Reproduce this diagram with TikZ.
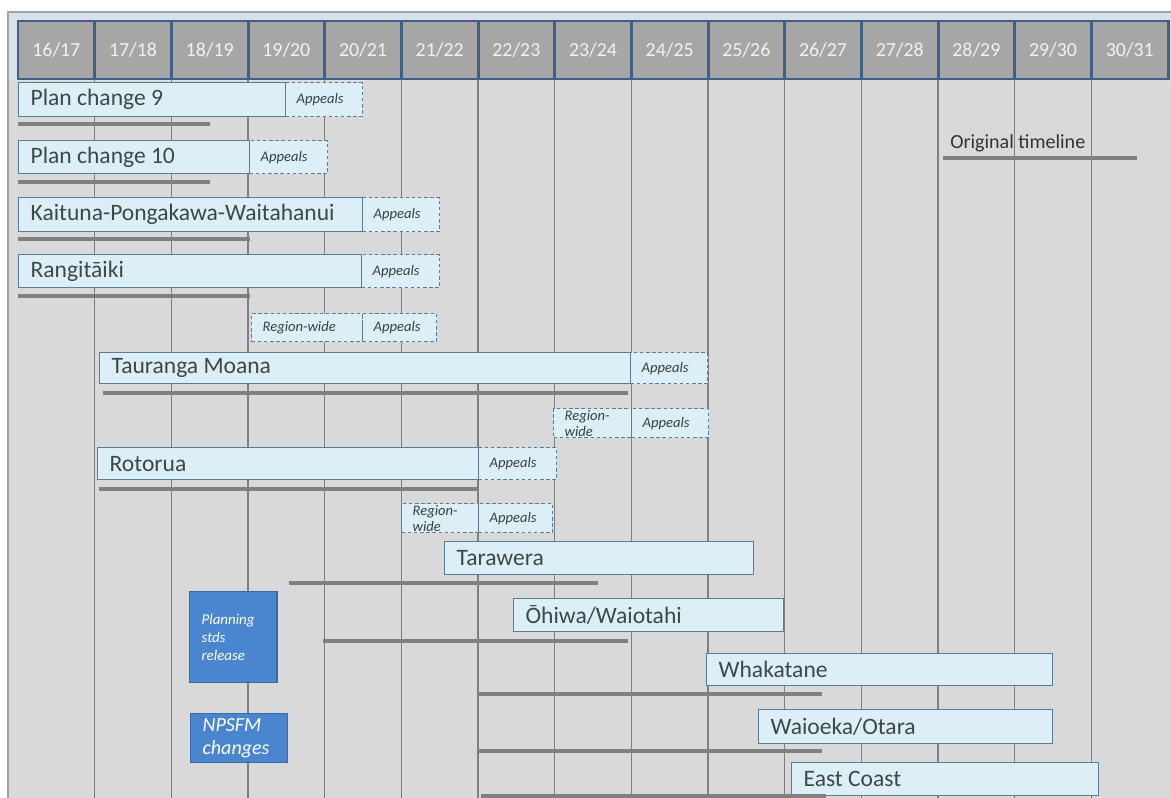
\documentclass[tikz,border=0pt]{standalone}
\usepackage{fontspec}
\setmainfont{Carlito}
\definecolor{bggray}{HTML}{D9D9D9}
\definecolor{bandblue}{HTML}{D9E0E8}
\definecolor{framegray}{HTML}{A0A4A8}
\definecolor{headfill}{HTML}{A6A6A6}
\definecolor{headline}{HTML}{3F5F86}
\definecolor{headtext}{HTML}{F2F2F2}
\definecolor{boxfill}{HTML}{DCEEF6}
\definecolor{boxline}{HTML}{5F7A94}
\definecolor{textcol}{HTML}{3E4848}
\definecolor{barcol}{HTML}{808080}
\definecolor{gridcol}{HTML}{7F7F7F}
\definecolor{bluefill}{HTML}{4A86D0}
\definecolor{blueline}{HTML}{3A68A8}
\begin{document}
\begin{tikzpicture}[x=0.02cm, y=-0.02cm,
	headcell/.style={draw=headline, fill=headfill, line width=1.7pt, text=headtext,
		inner sep=0pt, font=\fontsize{11.3}{13}\selectfont},
	planbox/.style={draw=boxline, fill=boxfill, line width=.75pt, anchor=north west,
		inner xsep=0.24cm, inner ysep=0pt, align=flush left, text=textcol,
		font=\fontsize{13.4}{16}\selectfont},
	appealbox/.style={draw=boxline, fill=boxfill, line width=.7pt, dash pattern=on 2pt off 1.5pt,
		anchor=north west, inner xsep=0.22cm, inner ysep=0pt, align=flush left, text=textcol!90!black,
		font=\itshape\fontsize{8.3}{9.2}\selectfont},
	bluebox/.style={draw=blueline, fill=bluefill, line width=.7pt, anchor=north west,
		inner xsep=0.24cm, inner ysep=0pt, align=flush left, text=white},
	gridline/.style={draw=gridcol, line width=.7pt},
	oldbar/.style={draw=barcol, line width=2.6pt}
]
	\useasboundingbox[fill=white] (0,0) rectangle (1171,798);
	\draw[fill=bggray, draw=framegray, line width=.6pt] (8,12) rectangle (1180,810);
	\fill[bandblue] (8.5,12.5) rectangle (1180,81);

	% year columns
	\foreach \k in {1,...,14}
		\draw[gridline] ({18+76.67*\k},79) -- ({18+76.67*\k},798);

	\foreach \yr [count=\k from 0] in {16,...,30}{
		\pgfmathtruncatemacro\nx{\yr+1}
		\node[headcell, minimum width=76.67*0.02cm, minimum height=58*0.02cm]
			(h\yr) at ({18+76.67*(\k+0.5)},50) {\yr/\nx};
	}

	% plan changes
	\foreach \nm/\xa/\ya/\xb/\yb/\txt in {
		pcnine/18/82/285/116/Plan change 9,
		pcten/18/140/249/173/Plan change 10,
		kpw/18/197/362/231/Kaituna-Pongakawa-Waitahanui,
		rangi/18/254/361/287/Rangitāiki,
		tauranga/99/352/630/383/Tauranga Moana,
		rotorua/97/447/478/479/Rotorua,
		tarawera/444/541/753/574/Tarawera,
		ohiwa/513/598/783/631/{Ōhiwa/Waiotahi},
		whakatane/706/653/1052/685/Whakatane,
		waioeka/758/709/1052/743/{Waioeka/Otara},
		eastcoast/791/762/1098/795/East Coast
	}{
		\pgfmathsetmacro\tw{(\xb-\xa)*0.02-0.48}
		\pgfmathsetmacro\bh{(\yb-\ya)*0.02}
		\node[planbox, text width=\tw cm, minimum height=\bh cm] (\nm) at (\xa,\ya) {\txt};
	}

	% appeals and region-wide
	\foreach \nm/\xa/\ya/\xb/\yb/\txt in {
		apnine/285/82/362/116/Appeals,
		apten/249/140/327/173/Appeals,
		apkpw/362/197/439/231/Appeals,
		aprangi/361/254/439/287/Appeals,
		rwone/251/313/362/341/Region-wide,
		aprwone/362/313/436/341/Appeals,
		aptauranga/630/352/707/383/Appeals,
		rwtwo/553/408/631/437/{Region-\\wide},
		aprwtwo/631/408/708/437/Appeals,
		aprotorua/478/447/556/479/Appeals,
		rwthree/401/503/478/532/{Region-\\wide},
		aprwthree/478/503/552/532/Appeals
	}{
		\pgfmathsetmacro\tw{(\xb-\xa)*0.02-0.44}
		\pgfmathsetmacro\bh{(\yb-\ya)*0.02}
		\node[appealbox, text width=\tw cm, minimum height=\bh cm] (\nm) at (\xa,\ya) {\txt};
	}

	\node[bluebox, text width=1.27cm, minimum height=1.82cm,
		font=\itshape\fontsize{8.5}{10.2}\selectfont] (stds) at (189,591)
		{Planning\\stds\\release};
	\node[bluebox, text width=1.46cm, minimum height=0.98cm,
		font=\itshape\fontsize{11.4}{13}\selectfont] (npsfm) at (190,713)
		{NPSFM\\changes};

	% original timeline
	\foreach \xa/\xb/\y in {
		18/210/124, 18/210/182, 18/250/239, 18/250/296,
		103/628/393, 99/477/489, 289/598/583, 323/628/641,
		478/822/694, 478/822/751, 481/826/796, 943/1137/158
	}
		\draw[oldbar] (\xa,\y) -- (\xb,\y);

	\node[anchor=west, inner sep=0pt, text=black!80, font=\fontsize{11.4}{13}\selectfont]
		(origtl) at (950,143) {Original timeline};
\end{tikzpicture}
\end{document}
